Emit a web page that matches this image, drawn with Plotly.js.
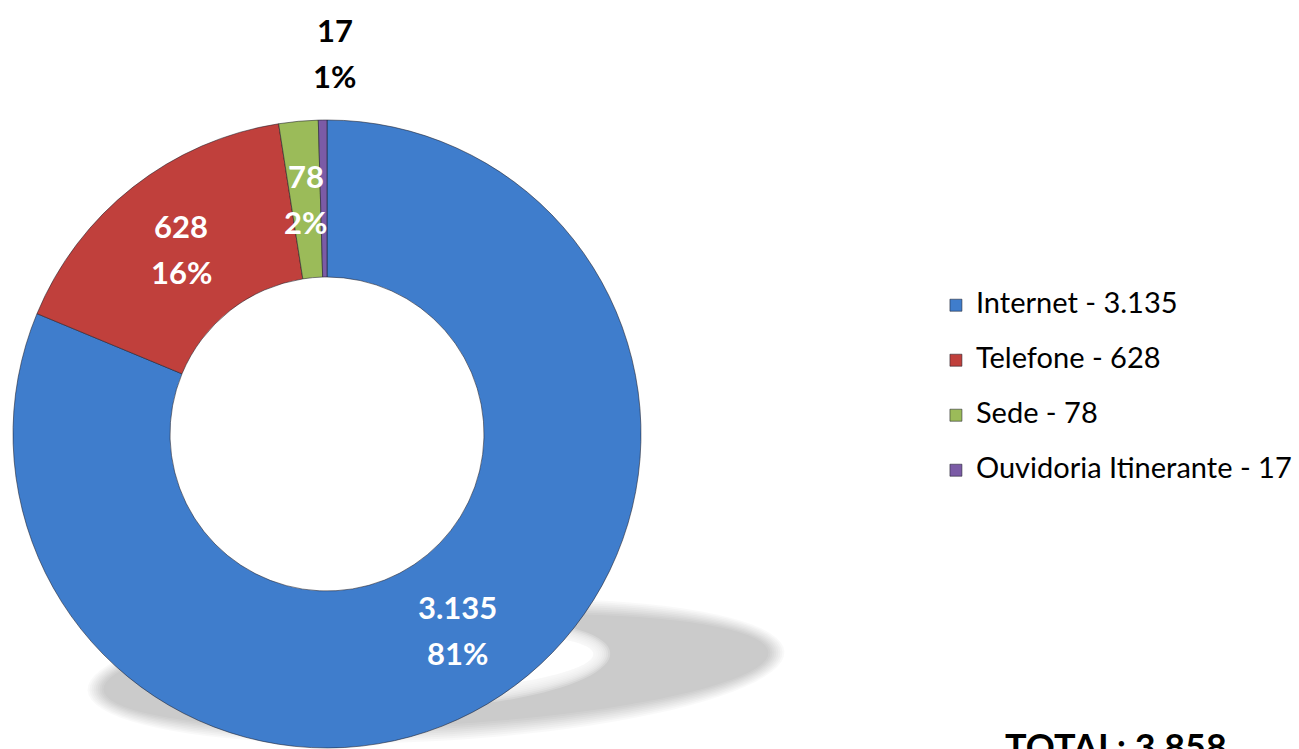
<!DOCTYPE html>
<html><head><meta charset="utf-8">
<script src="https://cdn.plot.ly/plotly-3.0.1.min.js"></script>
<style>html,body{margin:0;padding:0;background:#fff;}#chart{width:1299px;height:749px;}</style>
</head><body><div id="chart"></div>
<script>
const categories = ['Internet', 'Telefone', 'Sede', 'Ouvidoria Itinerante'];
const values = [3135, 628, 78, 17];
const percentLabels = ['81%', '16%', '2%', '1%'];
const colors = ['#3f7dcc', '#c0403c', '#9bbb59', '#7b5ba6'];
const labelInside = [true, true, true, false];

function fmt(n) { return String(n).replace(/\B(?=(\d{3})+(?!\d))/g, '.'); }

const W = 1299, H = 749, CX = 327, CY = 434, R = 314, HOLE = 0.5;
const domX = [(CX - R) / W, (CX + R) / W];
const domY = [(H - CY - R) / H, (H - CY + R) / H];
const total = values.reduce((a, b) => a + b, 0);
const legendLabels = categories.map((c, i) =>
  `<span style="font-size:29px">${c} - ${fmt(values[i])}</span><br> `);

const FONT = 'Lato, "Open Sans", sans-serif';

// data labels positioned from the slice geometry
const annotations = [];
let cum = 0;
values.forEach((v, i) => {
  const th = 2 * Math.PI * (cum + v / 2) / total;
  cum += v;
  const r = labelInside[i] ? R * (1 + HOLE) / 2 : R * 1.215;
  const px = CX + r * Math.sin(th), py = CY - r * Math.cos(th);
  const col = labelInside[i] ? '#ffffff' : '#000000';
  const xs = labelInside[i] ? 0 : 13;
  [[fmt(v), 23], [percentLabels[i], -23]].forEach(([t, ys]) => {
    annotations.push({
      xref: 'paper', yref: 'paper', x: px / W, y: (H - py) / H,
      xanchor: 'center', yanchor: 'middle', xshift: xs, yshift: ys,
      text: '<b>' + t + '</b>', showarrow: false,
      font: {family: FONT, size: 31, color: col}
    });
  });
});
annotations.push({
  xref: 'paper', yref: 'paper', x: 1003 / W, y: (H - 722) / H,
  xanchor: 'left', yanchor: 'top', showarrow: false,
  text: '<b>TOTAL: ' + fmt(total) + '</b>',
  font: {family: FONT, size: 36, color: '#000'}
});

// soft cast shadow (rotated ellipse ring)
function ellipsePath(cx, cy, rx, ry, rotDeg) {
  const a = rotDeg * Math.PI / 180;
  let p = '';
  for (let k = 0; k <= 90; k++) {
    const t = 2 * Math.PI * k / 90;
    const ex = rx * Math.cos(t), ey = ry * Math.sin(t);
    const x = cx + ex * Math.cos(a) - ey * Math.sin(a);
    const y = cy + ex * Math.sin(a) + ey * Math.cos(a);
    p += (k === 0 ? 'M' : 'L') + (x / W).toFixed(5) + ',' + ((H - y) / H).toFixed(5);
  }
  return p + 'Z';
}
const shapes = [];
const SCX = 436, SCY = 671, SRX = 341, SRY = 62, SROT = -3.2;
for (let d = -8; d <= 8; d += 2) shapes.push({
  type: 'path', xref: 'paper', yref: 'paper', layer: 'below',
  path: ellipsePath(SCX, SCY, SRX + d, SRY + d, SROT),
  fillcolor: 'rgba(0,0,0,0.025)', line: {width: 0}
});
for (let d = 8; d >= -8; d -= 2) shapes.push({
  type: 'path', xref: 'paper', yref: 'paper', layer: 'below',
  path: ellipsePath(SCX - 4, SCY - 8, SRX * 0.5 + d, SRY * 0.6 + d, SROT),
  fillcolor: 'rgba(255,255,255,0.22)', line: {width: 0}
});
shapes.push({
  type: 'path', xref: 'paper', yref: 'paper', layer: 'below',
  path: ellipsePath(SCX - 4, SCY - 8, SRX * 0.5 - 9, SRY * 0.6 - 9, SROT),
  fillcolor: '#ffffff', line: {width: 0}
});

const trace = {
  type: 'pie', labels: legendLabels, values: values,
  hole: HOLE, sort: false, direction: 'clockwise', rotation: 0,
  domain: {x: domX, y: domY},
  marker: {colors: colors, line: {color: 'rgba(30,30,40,0.55)', width: 1}},
  textinfo: 'none', hoverinfo: 'label+value+percent'
};

const layout = {
  width: W, height: H, margin: {l: 0, r: 0, t: 0, b: 0},
  paper_bgcolor: '#fff', plot_bgcolor: '#fff',
  showlegend: true,
  legend: {x: 0.7205, xanchor: 'left', y: 0.465, yanchor: 'middle', valign: 'top',
           font: {family: FONT, size: 20, color: '#000'}, bgcolor: 'rgba(0,0,0,0)'},
  annotations: annotations, shapes: shapes
};

Plotly.newPlot('chart', [trace], layout, {displayModeBar: false, responsive: false});
</script></body></html>
